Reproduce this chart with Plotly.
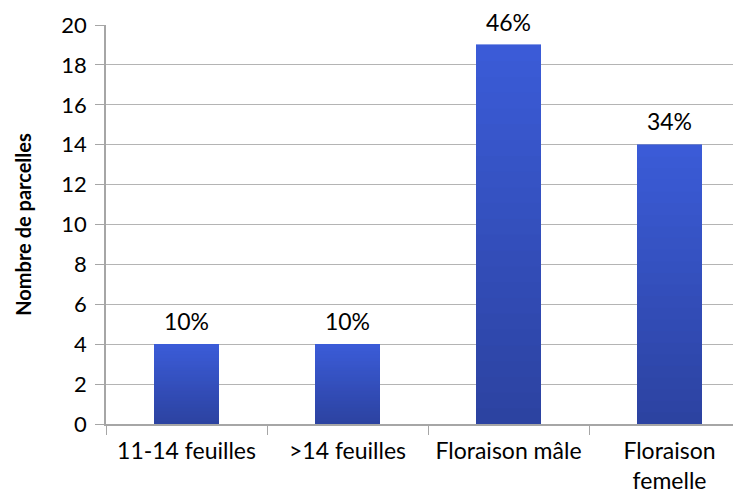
import plotly.graph_objects as go

categories = ["11-14 feuilles", ">14 feuilles", "Floraison mâle", "Floraison<br>femelle"]
values = [4, 4, 19, 14]
pct_labels = ["10%", "10%", "46%", "34%"]
y_ticks = list(range(0, 21, 2))

N = 24
bottom = (44, 66, 160)
top = (59, 92, 216)

fig = go.Figure()
for i in range(N):
    t = (i + 0.5) / N
    c = tuple(round(bottom[k] + (top[k] - bottom[k]) * t) for k in range(3))
    fig.add_trace(go.Bar(
        x=categories, y=[v / N for v in values], width=0.4,
        marker=dict(color="rgb(%d,%d,%d)" % c, line=dict(width=0.6, color="rgb(%d,%d,%d)" % c)),
        hoverinfo="skip", showlegend=False))

fig.add_trace(go.Scatter(
    x=categories, y=values, mode="markers+text", text=pct_labels,
    marker=dict(size=12, opacity=0),
    textposition="top center", textfont=dict(size=23, color="#000000", family="Lato"),
    showlegend=False, cliponaxis=False, hoverinfo="skip"))

fig.update_layout(
    width=733, height=487, barmode="stack",
    margin=dict(l=98, r=0, t=17, b=71, autoexpand=False),
    paper_bgcolor="white", plot_bgcolor="white",
    font=dict(family="Lato", size=22, color="#000000"),
    xaxis=dict(type="category", range=[-0.5, 3.444], tickson="boundaries",
               ticks="outside", ticklen=9, tickcolor="#a6a6a6", automargin=False,
               showline=True, linecolor="#a6a6a6", linewidth=1.5,
               showgrid=False, tickfont=dict(size=23), ticklabelstandoff=6),
    yaxis=dict(range=[0, 20], tickvals=y_ticks, ticks="outside", ticklen=9,
               tickcolor="#a6a6a6", showline=True, linecolor="#a6a6a6", linewidth=1.5,
               showgrid=True, gridcolor="#b4b4b4", gridwidth=1.2, zeroline=False,
               tickfont=dict(size=22), ticklabelstandoff=4, automargin=False,
               title=dict(text="<b>Nombre de parcelles</b>", font=dict(size=20), standoff=24)),
)
fig.write_html("out.html")
